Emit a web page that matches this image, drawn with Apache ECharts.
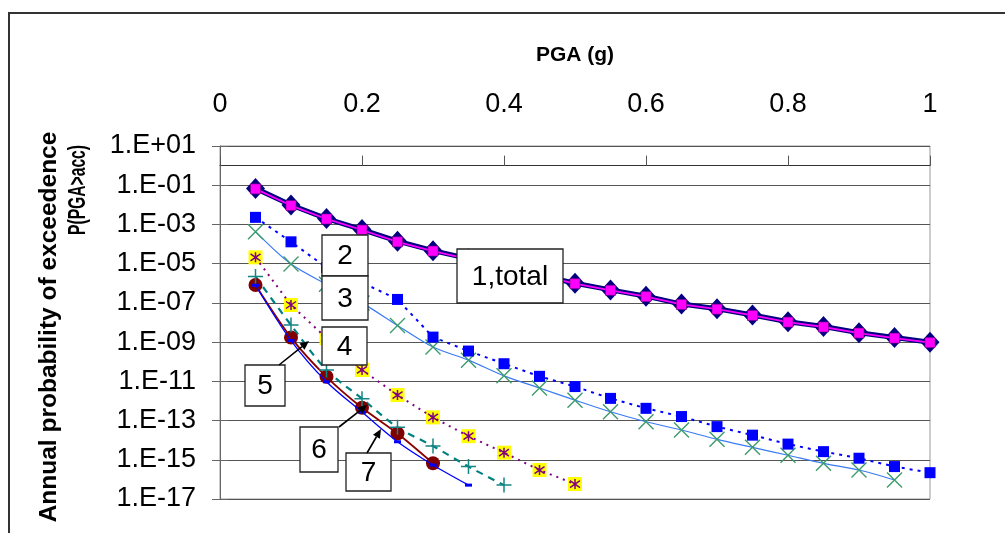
<!DOCTYPE html>
<html><head><meta charset="utf-8">
<script src="https://cdn.jsdelivr.net/npm/echarts@6/dist/echarts.min.js"></script>
<style>html,body{margin:0;padding:0;background:#fff}#c{width:1005px;height:533px}</style>
</head><body><div id="c"></div><script>
// ---- data (annual probability of exceedance vs PGA) ----
const pga = [0.05,0.1,0.15,0.2,0.25,0.3,0.35,0.4,0.45,0.5,0.55,0.6,0.65,0.7,0.75,0.8,0.85,0.9,0.95,1.0];
const xTicks = [0,0.2,0.4,0.6,0.8,1];
const yTickExponents = [1,-1,-3,-5,-7,-9,-11,-13,-15,-17];
const seriesTotal = [6.9e-2,9.8e-3,2.0e-3,5.5e-4,1.4e-4,4.6e-5,1.8e-5,6.9e-6,2.6e-6,1.0e-6,4.6e-7,2.2e-7,8.7e-8,5.0e-8,2.4e-8,1.1e-8,6.2e-9,3.0e-9,1.7e-9,9.8e-10];
const series1 = [6.5e-2,9.2e-3,1.9e-3,5.2e-4,1.3e-4,4.4e-5,1.7e-5,6.5e-6,2.5e-6,9.5e-7,4.4e-7,2.1e-7,8.3e-8,4.8e-8,2.3e-8,1.05e-8,5.9e-9,2.9e-9,1.6e-9,9.4e-10];
const series2 = [2.3e-3,1.3e-4,6.3e-6,1.1e-6,1.5e-7,1.8e-9,3.5e-10,7.9e-11,1.8e-11,5.4e-12,1.35e-12,4.2e-13,1.6e-13,4.9e-14,1.8e-14,6.3e-15,2.6e-15,1.2e-15,4.5e-16,2.2e-16];
const series3 = [4.3e-4,9.5e-6,8.9e-7,1.0e-7,7.1e-9,5.6e-10,1.2e-10,1.9e-11,4.6e-12,1.1e-12,2.8e-13,8.7e-14,3.3e-14,1.1e-14,4.3e-15,1.7e-15,6.6e-16,3.0e-16,9.3e-17];
const series4 = [2.1e-5,7.8e-8,1.6e-9,3.8e-11,2.0e-12,1.45e-13,1.6e-14,2.3e-15,3.0e-16,5.8e-17];
const series5 = [2.2e-6,7.4e-9,3.8e-11,1.3e-12,4.5e-14,5.0e-15,4.5e-16,5.1e-17];
const series6 = [8.1e-7,1.7e-9,1.7e-11,4.5e-13,2.2e-14,6.6e-16];
const series7 = [7.9e-7,1.2e-9,9.5e-12,2.7e-13,8.3e-15,5.4e-16,5.1e-17];
const boxLabels = ['1,total','2','3','4','5','6','7'];
const xName = 'PGA (g)';
const yNameLine1 = 'Annual probability of exceedence';
const yNameLine2 = 'P(PGA>acc)';

// ---- build ----
const FF = '"Liberation Sans", Arial, sans-serif';
function pts(vals){ return vals.map((v,i)=>[pga[i], Math.log10(v)]); }
function fmtY(e){ const r=Math.round(e); const a=Math.abs(r); return '1.E'+(r>=0?'+':'-')+(a<10?'0':'')+a; }

const X_PATH = 'path://M0,0L10,10M10,0L0,10';
const PLUS_PATH = 'path://M5,0L5,10M0,5L10,5';
const AST_PATH = 'path://M5,0L5,10M1.2,1.5L8.8,8.5M8.8,1.5L1.2,8.5';

const series = [
  {name:'7', type:'line', data:pts(series7), smooth:0.3, z:3,
   lineStyle:{color:'#0000FF', width:1.3}, symbol:'rect', symbolSize:[7,3],
   itemStyle:{color:'#0000FF', borderWidth:0}},
  {name:'6', type:'line', data:pts(series6), smooth:0.3, z:2,
   lineStyle:{color:'#8B0000', width:1.8}, symbol:'circle', symbolSize:14,
   itemStyle:{color:'#800000', borderWidth:0}},
  {name:'5', type:'line', data:pts(series5), smooth:0.3, z:2,
   lineStyle:{color:'#008080', width:2.2, type:[7,6]}, symbol:PLUS_PATH, symbolSize:15,
   itemStyle:{color:'none', borderColor:'#138585', borderWidth:1.5}},
  {name:'4bg', type:'line', data:pts(series4), z:2,
   lineStyle:{width:0, opacity:0}, symbol:'rect', symbolSize:14,
   itemStyle:{color:'#FFFF00', borderWidth:0}},
  {name:'4', type:'line', data:pts(series4), z:3,
   lineStyle:{color:'#800080', width:2, type:[2,5]}, symbol:AST_PATH, symbolSize:10,
   itemStyle:{color:'none', borderColor:'#800080', borderWidth:1.5}},
  {name:'3', type:'line', data:pts(series3), smooth:0.3, z:2,
   lineStyle:{color:'#3A7BF5', width:1.2}, symbol:X_PATH, symbolSize:15,
   itemStyle:{color:'none', borderColor:'#3C9B6B', borderWidth:1.4}},
  {name:'2', type:'line', data:pts(series2), z:2,
   lineStyle:{color:'#0000FF', width:2, type:[3,5]}, symbol:'rect', symbolSize:11,
   itemStyle:{color:'#0000FF', borderWidth:0}},
  {name:'total', type:'line', data:pts(seriesTotal), z:4,
   lineStyle:{color:'#000080', width:5}, symbol:'diamond', symbolSize:[19,21],
   itemStyle:{color:'#000080', borderWidth:0}},
  {name:'1', type:'line', data:pts(series1), z:5,
   lineStyle:{color:'#FF00FF', width:1.8}, symbol:'rect', symbolSize:10,
   itemStyle:{color:'#FF00FF', borderColor:'#7a007a', borderWidth:0.6}}
];
series.forEach(s=>{ s.showSymbol=true; s.animation=false; s.silent=true; s.emphasis={disabled:true}; });

// annotation boxes (pixel placement)
function box(text,x,y,w,h){
  return {type:'group', z:100, children:[
    {type:'rect', shape:{x:x,y:y,width:w,height:h}, style:{fill:'#fff', stroke:'#222', lineWidth:1.3}, z:100},
    {type:'text', x:x+w/2, y:y+h/2+1, style:{text:text, font:'28px '+FF, fill:'#000', align:'center', verticalAlign:'middle'}, z:101}
  ]};
}
function arrow(x1,y1,x2,y2){
  const a=Math.atan2(y2-y1,x2-x1), L=9, W=4;
  const bx=x2-L*Math.cos(a), by=y2-L*Math.sin(a);
  return {type:'group', z:100, children:[
    {type:'line', shape:{x1:x1,y1:y1,x2:bx,y2:by}, style:{stroke:'#000', lineWidth:1.6}, z:100},
    {type:'polygon', shape:{points:[[x2,y2],[bx+W*Math.sin(a),by-W*Math.cos(a)],[bx-W*Math.sin(a),by+W*Math.cos(a)]]}, style:{fill:'#000'}, z:100}
  ]};
}

const graphic = [
  {type:'rect', shape:{x:9,y:13,width:1200,height:800}, style:{fill:'none', stroke:'#333', lineWidth:2}, z:-10, silent:true},
  {type:'text', x:49, y:327, rotation:Math.PI/2, style:{text:yNameLine1, font:'bold 24.5px '+FF, fill:'#000', align:'center', verticalAlign:'middle'}},
  {type:'text', x:79, y:190, rotation:Math.PI/2, scaleX:0.68, style:{text:yNameLine2, font:'bold 23px '+FF, fill:'#000', align:'center', verticalAlign:'middle'}},
  box(boxLabels[1],322,235,46,41),
  box(boxLabels[2],322,276,46,44),
  box(boxLabels[0],457,249,106,54),
  box(boxLabels[3],322,327,45,38),
  box(boxLabels[4],245,365,40,41),
  box(boxLabels[5],300,427,38,45),
  box(boxLabels[6],346,453,45,38),
  arrow(279,365,309,341),
  arrow(339,427,367,405),
  arrow(367,453,381,429)
];

const yMin = yTickExponents[yTickExponents.length-1], yMax = yTickExponents[0];
const option = {
  animation:false,
  backgroundColor:'#fff',
  grid:{left:220, right:75, top:146, bottom:34, show:true, borderColor:'#999', borderWidth:1, backgroundColor:'transparent'},
  xAxis:{type:'value', position:'top', min:xTicks[0], max:xTicks[xTicks.length-1], interval:0.2,
    name:xName, nameLocation:'middle', nameGap:80,
    nameTextStyle:{fontWeight:'bold', fontSize:21, fontFamily:FF, color:'#000'},
    axisLine:{show:true, lineStyle:{color:'#333', width:1}},
    axisTick:{show:true, length:10, lineStyle:{color:'#555'}},
    axisLabel:{fontSize:27, fontFamily:FF, color:'#000', margin:28},
    splitLine:{show:false}},
  yAxis:[
    {type:'value', min:yMin, max:yMax, interval:2,
     axisLine:{show:true, lineStyle:{color:'#666', width:1}},
     axisTick:{show:true, length:8, lineStyle:{color:'#666'}},
     axisLabel:{fontSize:27, fontFamily:FF, color:'#000', margin:24, formatter:fmtY},
     splitLine:{show:true, lineStyle:{color:'#555', width:1}}},
    {type:'value', min:yMin, max:yMax, interval:2, position:'left',
     axisLine:{show:false}, axisTick:{show:true, inside:true, length:8, lineStyle:{color:'#666'}},
     axisLabel:{show:false}, splitLine:{show:false}}
  ],
  series: series,
  graphic: graphic
};
const chart = echarts.init(document.getElementById('c'), null, {renderer:'canvas'});
chart.setOption(option);
</script></body></html>
